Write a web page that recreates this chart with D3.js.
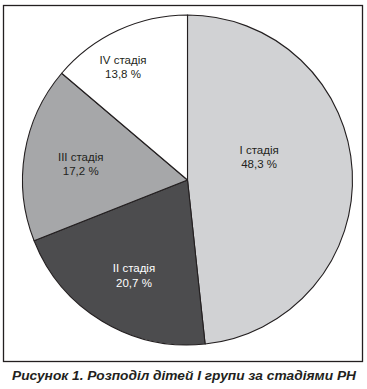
<!DOCTYPE html>
<html>
<head>
<meta charset="utf-8">
<script src="https://cdn.jsdelivr.net/npm/d3@7"></script>
<style>
  html, body { margin: 0; padding: 0; background: #ffffff; }
  svg { display: block; }
</style>
</head>
<body>
<svg id="chart" width="367" height="389"></svg>
<script>
// ---- data ----
const categories = ["I стадія", "II стадія", "III стадія", "IV стадія"];
const values = [48.3, 20.7, 17.2, 13.8];
const valueLabels = ["48,3 %", "20,7 %", "17,2 %", "13,8 %"];
const fills = ["#d1d2d4", "#4c4c4e", "#a6a7a9", "#ffffff"];
const textColors = ["#231f20", "#ffffff", "#231f20", "#231f20"];
const caption = "Рисунок 1. Розподіл дітей І групи за стадіями РН";

// ---- layout ----
const W = 367, H = 389;
const cx = 187.5, cy = 180, R = 165;
// label radius as fraction of R, and angular tweak (radians) per slice
const labelRadius = [0.455, 0.665, 0.654, 0.786];
const labelAngleShift = [-0.252, -0.034, -0.019, -0.087];

const svg = d3.select("#chart");

// frame
svg.append("rect")
  .attr("x", 3.5).attr("y", 5.5)
  .attr("width", 359).attr("height", 356)
  .attr("fill", "none").attr("stroke", "#231f20").attr("stroke-width", 1.3);

const pie = d3.pie().sort(null).value(d => d)(values);
const arc = d3.arc().innerRadius(0).outerRadius(R);

const g = svg.append("g").attr("transform", `translate(${cx},${cy})`);

g.selectAll("path.slice")
  .data(pie)
  .join("path")
  .attr("class", "slice")
  .attr("d", arc)
  .attr("fill", (d, i) => fills[i])
  .attr("stroke", "#231f20")
  .attr("stroke-width", 1.1)
  .attr("stroke-linejoin", "round");

const labels = g.selectAll("g.lbl")
  .data(pie)
  .join("g")
  .attr("class", "lbl")
  .attr("transform", (d, i) => {
    const a = (d.startAngle + d.endAngle) / 2 + labelAngleShift[i];
    const r = R * labelRadius[i];
    return `translate(${r * Math.sin(a)},${-r * Math.cos(a)})`;
  });

labels.append("text")
  .attr("text-anchor", "middle")
  .attr("y", -3.5)
  .attr("font-family", "'Liberation Sans Narrow', 'Arial Narrow', 'Liberation Sans', sans-serif")
  .attr("font-size", "11.5px")
  .attr("fill", (d, i) => textColors[i])
  .text((d, i) => categories[i]);

labels.append("text")
  .attr("text-anchor", "middle")
  .attr("y", 11)
  .attr("font-family", "'Liberation Sans Narrow', 'Arial Narrow', 'Liberation Sans', sans-serif")
  .attr("font-size", "11.5px")
  .attr("fill", (d, i) => textColors[i])
  .text((d, i) => valueLabels[i]);

// caption
svg.append("text")
  .attr("x", 12).attr("y", 379.5)
  .attr("font-family", "'Liberation Sans', Arial, sans-serif")
  .attr("font-size", "13px")
  .attr("font-weight", "bold")
  .attr("font-style", "italic")
  .attr("fill", "#231f20")
  .attr("textLength", 344)
  .attr("lengthAdjust", "spacingAndGlyphs")
  .text(caption);
</script>
</body>
</html>
